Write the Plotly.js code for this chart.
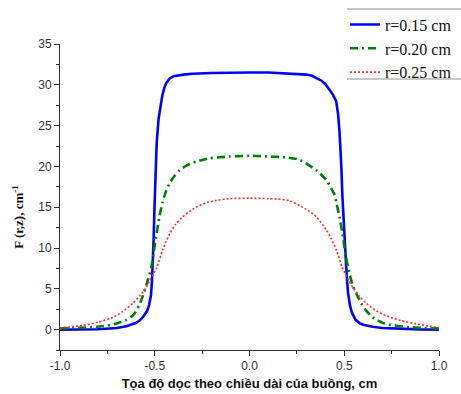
<!DOCTYPE html>
<html>
<head>
<meta charset="utf-8">
<script src="https://cdn.plot.ly/plotly-3.0.1.min.js"></script>
<style>
html,body{margin:0;padding:0;background:#fff;}
#chart{width:461px;height:394px;}
</style>
</head>
<body>
<div id="chart"></div>
<script>
// Series names
const seriesNames = ["r=0.15 cm", "r=0.20 cm", "r=0.25 cm"];

// r = 0.15 cm
const x015 = [-1.0, -0.9, -0.8, -0.7, -0.65, -0.6, -0.58, -0.56, -0.54, -0.53, -0.52, -0.515, -0.51, -0.506, -0.502, -0.498, -0.494, -0.49, -0.48, -0.47, -0.46, -0.45, -0.44, -0.42, -0.40, -0.35, -0.30, -0.20, -0.10, 0.0, 0.10, 0.20, 0.30, 0.33, 0.36, 0.38, 0.40, 0.42, 0.44, 0.457, 0.467, 0.475, 0.48, 0.485, 0.49, 0.495, 0.50, 0.505, 0.51, 0.515, 0.52, 0.53, 0.54, 0.56, 0.58, 0.60, 0.65, 0.70, 0.80, 0.90, 1.0];
const y015 = [0.0, 0.02, 0.05, 0.2, 0.4, 0.8, 1.1, 1.6, 2.3, 3.0, 4.2, 5.8, 8.0, 11.0, 14.5, 18.0, 20.8, 22.8, 25.8, 27.5, 28.7, 29.6, 30.2, 30.8, 31.05, 31.25, 31.35, 31.45, 31.5, 31.5, 31.5, 31.4, 31.25, 31.1, 30.8, 30.5, 30.1, 29.5, 28.8, 28.0, 26.5, 24.3, 22.5, 19.8, 16.5, 14.0, 12.2, 10.0, 7.8, 6.0, 4.5, 3.0, 2.1, 1.2, 0.8, 0.6, 0.35, 0.2, 0.08, 0.03, 0.0];

// r = 0.20 cm
const x020 = [-1.0, -0.9, -0.83, -0.75, -0.70, -0.65, -0.617, -0.60, -0.58, -0.56, -0.544, -0.53, -0.517, -0.505, -0.49, -0.475, -0.459, -0.44, -0.42, -0.40, -0.37, -0.333, -0.28, -0.21, -0.106, 0.0, 0.07, 0.195, 0.264, 0.354, 0.406, 0.449, 0.459, 0.475, 0.49, 0.51, 0.527, 0.545, 0.564, 0.59, 0.617, 0.65, 0.70, 0.75, 0.844, 0.92, 1.0];
const y020 = [0.15, 0.22, 0.3, 0.5, 0.75, 1.2, 1.7, 2.2, 3.1, 4.3, 5.5, 6.6, 7.8, 9.6, 11.8, 13.9, 15.6, 17.0, 18.0, 18.7, 19.5, 20.1, 20.6, 21.0, 21.2, 21.3, 21.25, 21.1, 20.8, 19.5, 18.3, 16.5, 15.5, 13.8, 11.8, 8.8, 6.9, 5.4, 4.4, 3.2, 2.3, 1.5, 0.85, 0.55, 0.3, 0.2, 0.15];

// r = 0.25 cm
const x025 = [-1.0, -0.88, -0.8, -0.72, -0.67, -0.617, -0.58, -0.544, -0.52, -0.49, -0.459, -0.44, -0.42, -0.39, -0.354, -0.31, -0.264, -0.22, -0.174, -0.1, 0.0, 0.1, 0.15, 0.211, 0.264, 0.31, 0.354, 0.406, 0.43, 0.459, 0.49, 0.52, 0.544, 0.58, 0.617, 0.67, 0.72, 0.8, 0.88, 0.95, 1.0];
const y025 = [0.2, 0.5, 0.9, 1.5, 2.2, 3.2, 4.1, 5.2, 6.3, 7.6, 9.7, 10.8, 11.8, 12.9, 13.8, 14.6, 15.2, 15.6, 15.85, 16.05, 16.1, 16.05, 16.0, 15.8, 15.2, 14.6, 13.8, 12.2, 11.2, 9.7, 7.6, 6.2, 5.2, 4.1, 3.2, 2.3, 1.7, 1.1, 0.7, 0.4, 0.25];

// Tick labels
const xTickVals = [-1.0, -0.5, 0.0, 0.5, 1.0];
const xTickText = ["-1.0", "-0.5", "0.0", "0.5", "1.0"];
const yTickVals = [0, 5, 10, 15, 20, 25, 30, 35];
const yTickText = ["0", "5", "10", "15", "20", "25", "30", "35"];

const xTitle = "Tọa độ dọc theo chiều dài của buồng, cm";
const yTitle = "F (r,z), cm<sup>-1</sup>";

const traces = [
  {x: x015, y: y015, name: seriesNames[0], mode: "lines",
   line: {color: "#0000ff", width: 2.6, shape: "linear"}},
  {x: x020, y: y020, name: seriesNames[1], mode: "lines",
   line: {color: "#008000", width: 2.6, dash: "8px,4px,2px,4px", shape: "spline", smoothing: 0.6}},
  {x: x025, y: y025, name: seriesNames[2], mode: "lines",
   line: {color: "#ff2a2a", width: 1.6, dash: "2px,2px", shape: "spline", smoothing: 0.6}}
];

const axisCommon = {
  showline: true, linecolor: "#333", linewidth: 1,
  ticks: "outside", ticklen: 5, tickwidth: 1, tickcolor: "#333",
  showgrid: false, zeroline: false,
  tickfont: {family: "Liberation Sans, Arial, sans-serif", size: 12, color: "#333"}
};

const layout = {
  width: 461, height: 394,
  margin: {l: 60, r: 22, t: 44, b: 44, autoexpand: false},
  paper_bgcolor: "#fff", plot_bgcolor: "#fff",
  showlegend: true,
  xaxis: Object.assign({}, axisCommon, {
    range: [-1, 1], tickmode: "array", tickvals: xTickVals, ticktext: xTickText,
    minor: {ticks: "outside", ticklen: 3, tickcolor: "#333", dtick: 0.25, tick0: -1, showgrid: false},
    title: {text: xTitle, standoff: 6, font: {family: "Liberation Sans, Arial, sans-serif", size: 13, color: "#111", weight: "bold"}}
  }),
  yaxis: Object.assign({}, axisCommon, {
    range: [-2.5, 35], tickmode: "array", tickvals: yTickVals, ticktext: yTickText,
    minor: {ticks: "outside", ticklen: 3, tickcolor: "#333", dtick: 2.5, tick0: 0, showgrid: false}
  }),
  legend: {
    x: 0.752, y: 1.119, xanchor: "left", yanchor: "top", traceorder: "normal",
    bgcolor: "rgba(0,0,0,0)", borderwidth: 0,
    font: {family: "Liberation Serif, Times New Roman, serif", size: 16, color: "#111"}
  },
  shapes: [
    {type: "line", xref: "paper", yref: "paper", x0: 0.757, x1: 1.06, y0: 1.114, y1: 1.114, line: {color: "#b4b4b4", width: 1.5}},
    {type: "line", xref: "paper", yref: "paper", x0: 0.757, x1: 1.06, y0: 0.886, y1: 0.886, line: {color: "#b4b4b4", width: 1.5}}
  ],
  annotations: [
    {text: yTitle, textangle: -90, xref: "paper", yref: "paper", x: -0.111, y: 0.435,
     xanchor: "center", yanchor: "middle", showarrow: false,
     font: {family: "Liberation Serif, Times New Roman, serif", size: 13, color: "#111", weight: "bold"}}
  ]
};

Plotly.newPlot("chart", traces, layout, {displayModeBar: false, staticPlot: true});
</script>
</body>
</html>
